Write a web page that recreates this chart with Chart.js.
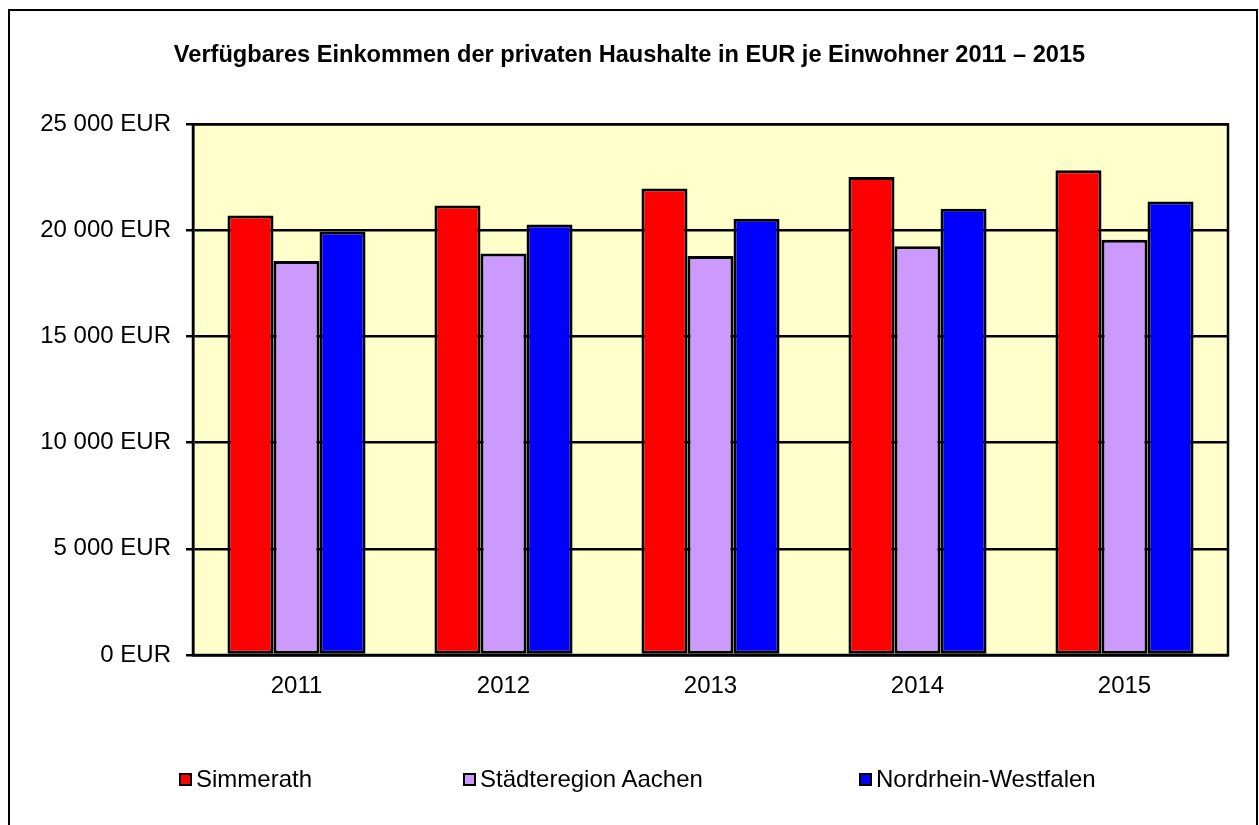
<!DOCTYPE html>
<html>
<head>
<meta charset="utf-8">
<script src="https://cdn.jsdelivr.net/npm/chart.js@4.4.1/dist/chart.umd.min.js"></script>
<style>
  body { margin: 0; background: #fff; }
  #wrap { position: relative; width: 1259px; height: 825px; }
  #frame { position: absolute; left: 8px; top: 9px; width: 1250px; height: 830px; border: 2px solid #000; box-sizing: border-box; pointer-events: none; }
  #legend { position: absolute; top: 765px; left: 0; font: 24px 'Liberation Sans', Arial, sans-serif; color: #000; }
  .item { position: absolute; white-space: nowrap; display: flex; align-items: center; }
  .box { width: 9px; height: 9px; border: 2px solid #000; margin-right: 4px; }
</style>
</head>
<body>
<div id="wrap">
  <canvas id="chart" width="1259" height="825"></canvas>
  <div id="frame"></div>
  <div id="legend"></div>
</div>
<script>
const years = ['2011', '2012', '2013', '2014', '2015'];
const seriesNames = ['Simmerath', 'Städteregion Aachen', 'Nordrhein-Westfalen'];
const simmerath = [20700, 21170, 21980, 22520, 22840];
const aachen = [18560, 18910, 18800, 19260, 19560];
const nrw = [19950, 20280, 20550, 21020, 21360];
const seriesColors = ['#FF0000', '#CC99FF', '#0000FF'];
const yTicks = [0, 5000, 10000, 15000, 20000, 25000];
const chartTitle = 'Verfügbares Einkommen der privaten Haushalte in EUR je Einwohner 2011 \u2013 2015';

const font = "'Liberation Sans', Arial, sans-serif";

// yellow plot background + border round it
const plotArea = {
	id: 'plotArea',
	beforeDraw(chart) {
		const { ctx, chartArea: a } = chart;
		ctx.save();
		ctx.fillStyle = '#FFFFCC';
		ctx.fillRect(a.left, a.top, a.right - a.left, a.bottom - a.top);
		ctx.restore();
	},
	afterDraw(chart) {
		const { ctx, chartArea: a } = chart;
		ctx.save();
		ctx.strokeStyle = '#000';
		ctx.lineWidth = 2.5;
		ctx.strokeRect(a.left, a.top, a.right - a.left, a.bottom - a.top);
		ctx.restore();
	},
};

const allData = [simmerath, aachen, nrw];
const datasets = seriesNames.map((name, i) => ({
	label: name,
	data: allData[i],
	backgroundColor: seriesColors[i],
	borderColor: '#000',
	borderWidth: 3,
	borderSkipped: false,
	categoryPercentage: 0.667,
	barPercentage: 1.0,
}));

new Chart(document.getElementById('chart'), {
	type: 'bar',
	data: { labels: years, datasets: datasets },
	plugins: [plotArea],
	options: {
		responsive: false,
		animation: false,
		// same padding left/right so the title sits in the middle of the page
		layout: { padding: { top: 20, right: 31, left: 31, bottom: 0 } },
		plugins: {
			legend: { display: false },
			tooltip: { enabled: false },
			title: {
				display: true,
				text: chartTitle,
				color: '#000',
				font: { family: font, size: 23.6, weight: 'bold' },
				padding: { top: 21, bottom: 55 },
			},
		},
		scales: {
			x: {
				grid: { display: false, drawTicks: false },
				border: { color: '#000', width: 2.5 },
				ticks: { color: '#000', font: { family: font, size: 24 }, padding: 17 },
				afterFit(scale) { scale.height = 170; },
			},
			y: {
				min: 0,
				max: 25000,
				afterBuildTicks(scale) { scale.ticks = yTicks.map((v) => ({ value: v })); },
				grid: { color: '#000', lineWidth: 2.5, tickLength: 7 },
				border: { color: '#000', width: 2.5 },
				ticks: {
					color: '#000',
					font: { family: font, size: 24 },
					padding: 15,
					callback: (v) => String(v).replace(/\B(?=(\d{3})+(?!\d))/g, ' ') + ' EUR',
				},
				afterFit(scale) { scale.width = 162; },
			},
		},
	},
});

// legend below the chart, like the spreadsheet one
const legendX = [179, 463, 859];
const legend = document.getElementById('legend');
seriesNames.forEach((name, i) => {
	const item = document.createElement('div');
	item.className = 'item';
	item.style.left = legendX[i] + 'px';
	item.innerHTML = `<span class="box" style="background:${seriesColors[i]}"></span><span>${name}</span>`;
	legend.appendChild(item);
});
</script>
</body>
</html>
